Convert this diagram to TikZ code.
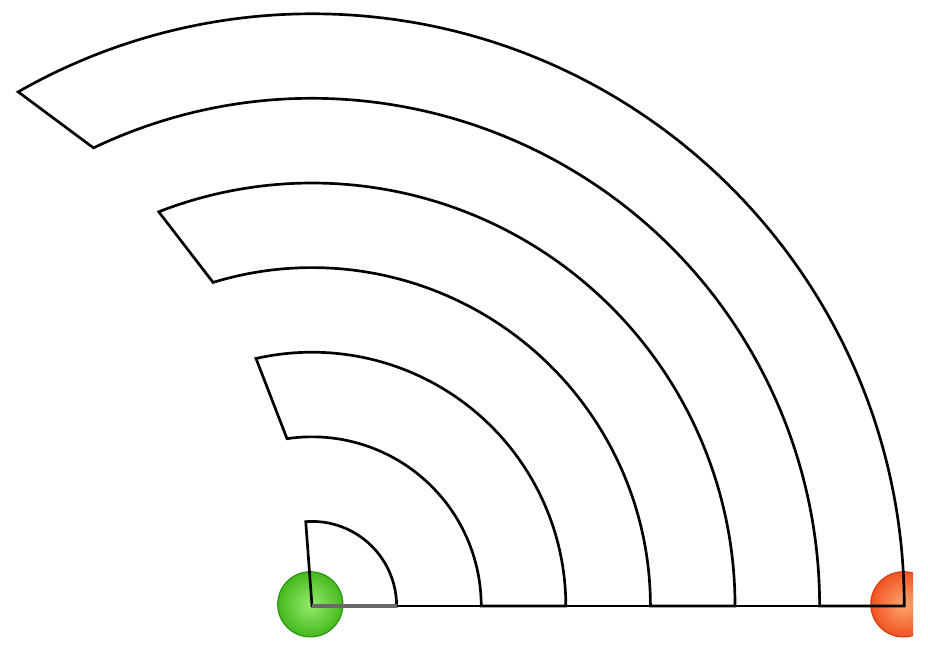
\documentclass[tikz,border=0pt]{standalone}
\usetikzlibrary{calc}
\definecolor{ballgreen}{RGB}{70,185,30}
\definecolor{ballgreenlight}{RGB}{150,235,110}
\definecolor{ballgreendark}{RGB}{40,150,20}
\definecolor{ballred}{RGB}{240,85,35}
\definecolor{ballredlight}{RGB}{255,165,110}
\definecolor{ballreddark}{RGB}{215,60,20}
\definecolor{basegray}{RGB}{105,105,105}
\tikzset{
  ring/.style={
    line width=0.9pt,
    line join=miter,
    draw=black
  },
  base-gray/.style={line width=1.4pt, draw=basegray},
  ball-green/.style={circle, minimum size=0.77cm, inner sep=0pt, draw=ballgreendark, line width=0.4pt, inner color=ballgreenlight, outer color=ballgreen},
  ball-red/.style={circle, minimum size=0.77cm, inner sep=0pt, draw=ballreddark, line width=0.4pt, inner color=ballredlight, outer color=ballred}
}

\begin{document}
\begin{tikzpicture}
  \useasboundingbox (-3.688,-0.556) rectangle (7.281,7.163);
  % end points
  \node[ball-green] (origin) at (-0.02,0.02) {};
  \begin{scope}
    \clip (5,-0.556) rectangle (7.104,1);
    \node[ball-red] (tip) at (6.99,0.02) {};
  \end{scope}
  % inner wedge
  \draw[ring] (0,0) -- (0:1) arc[start angle=0, end angle=94.25, radius=1] -- cycle;
  % rings
  \foreach \r in {2,4,6} {
    \pgfmathsetmacro{\ro}{\r+1}
    \pgfmathsetmacro{\ai}{90+4.25*\r}
    \pgfmathsetmacro{\ao}{90+4.25*\ro}
    \draw[ring] (\ai:\r) arc[start angle=\ai, end angle=0, radius=\r]
      -- (0:\ro) arc[start angle=0, end angle=\ao, radius=\ro] -- cycle;
  }
  \draw[ring] (0,0) -- (7,0);
  \draw[base-gray] (0,0) -- (1,0);
\end{tikzpicture}
\end{document}
